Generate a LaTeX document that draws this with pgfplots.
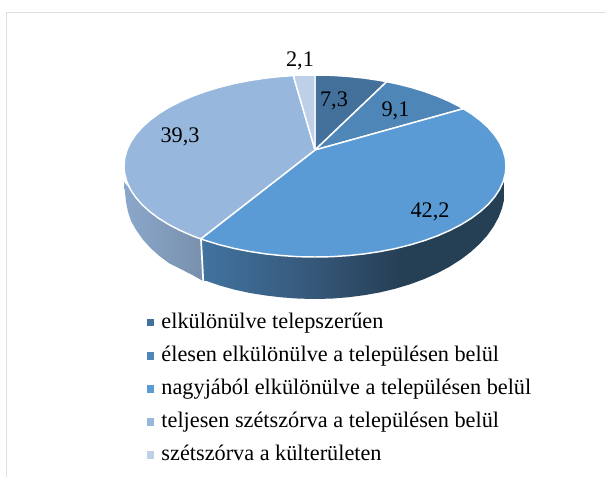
\documentclass[border=0pt]{standalone}
\usepackage{fontspec}
\setmainfont{Liberation Serif}
\usepackage{pgfplots}
\pgfplotsset{compat=1.18}
\definecolor{cA}{HTML}{44719B}
\definecolor{cB}{HTML}{4F86B8}
\definecolor{cC}{HTML}{5B9BD5}
\definecolor{cD}{HTML}{97B7DD}
\definecolor{cE}{HTML}{BDD0E8}
\definecolor{fa}{HTML}{41739F}
\definecolor{fb}{HTML}{375A7C}
\definecolor{fc}{HTML}{253F55}
\definecolor{la}{HTML}{8AA7CB}
\definecolor{lb}{HTML}{7890AD}
\pgfdeclarehorizontalshading{frontshade}{100bp}{color(0bp)=(fa); color(25bp)=(fa); color(42bp)=(fb); color(58bp)=(fc); color(100bp)=(fc)}
\begin{document}
\begin{tikzpicture}
\path[use as bounding box] (0,0) rectangle (454.5pt,357.75pt);
\begin{axis}[
  at={(0,0)},anchor=south west,
  scale only axis,width=454.5pt,height=357.75pt,
  xmin=0,xmax=606,ymin=0,ymax=477,y dir=reverse,
  hide axis,clip=false,
  legend style={at={(axis cs:146,313.5)},anchor=north west,draw=none,fill=none,
    font=\fontsize{16.7pt}{18pt}\selectfont,inner sep=0pt,outer sep=0pt,
    row sep=10.3pt,
    nodes={inner sep=0pt,text height=11pt,text depth=3.5pt,anchor=base west}},
  legend cell align=left,
  legend image code/.code={\path (0pt,0pt) -- (10.5pt,0pt);\path[#1,draw=none] (0pt,1.3pt) rectangle (5.5pt,6.8pt);},
]
% frame
\addplot[draw=black!13,line width=1.3pt,forget plot] coordinates {(6.5,477) (6.5,12.5) (606,12.5)};
% sides
\addplot[draw=none,shading=frontshade,forget plot] coordinates {
 (200.7,238.9) (219.5,244.8) (249.7,251.5) (281.8,255.6) (315,257) (348.2,255.6) (380.3,251.5) (410.5,244.8) (437.8,235.7) (461.3,224.5) (480.4,211.5) (494.5,197.1) (504,180)
 (504.3,198.6) (502.1,208.1) (498.5,217.5) (493.5,226.6) (487.2,235.5) (479.5,244) (470.6,252.1) (460.5,259.7) (449.4,266.8) (437.1,273.3) (424,279.1) (410,284.3) (395.3,288.7) (380,292.4) (364.2,295.2) (348,297.3) (331.6,298.6) (315,299) (298.4,298.6) (282,297.4) (265.8,295.5) (250,293) (234.7,289.7) (220,285.6) (206,280.8) (203,281)
} --cycle;
\addplot[draw=none,left color=la,right color=lb,forget plot] coordinates {
 (200.7,238.9) (203,281) (192.9,275.3) (180.6,269) (169.5,263.5) (159.4,256) (150.5,248) (142.8,239.5) (136.5,230.5) (131,221) (128,212) (126,202) (124,182) (130.5,189.6) (141.9,204.5) (158.5,218.2) (179.9,230.3)
} --cycle;
\addplot[draw=white,line width=1.3pt,forget plot] coordinates {(201,239) (203.3,281.7)};
% top faces
\addplot[fill=cA,draw=white,line width=1.1pt,line join=round] coordinates {
 (315,150) (315,75) (331.7,75.3) (348.2,76.4) (364.4,78.1) (380.3,80.5) (386.7,81.7)} --cycle;
\addlegendentry{elkülönülve telepszerűen}
\addplot[fill=cB,draw=white,line width=1.1pt,line join=round] coordinates {
 (315,150) (386.7,81.7) (395.7,83.5) (410.5,87.2) (424.6,91.5) (437.8,96.3) (450.1,101.7) (461.3,107.5) (463.3,108.7)} --cycle;
\addlegendentry{élesen elkülönülve a településen belül}
\addplot[fill=cC,draw=white,line width=1.1pt,line join=round] coordinates {
 (315,150) (463.3,108.7) (471.5,113.8) (480.4,120.5) (488.1,127.5) (494.5,134.9) (499.5,142.4) (503.1,150.2) (505.3,158.1) (506,166)
 (505.3,173.9) (503.1,181.8) (499.5,189.6) (494.5,197.1) (488.1,204.5) (480.4,211.5) (471.5,218.2) (461.3,224.5) (450.1,230.3) (437.8,235.7) (424.6,240.5) (410.5,244.8) (395.7,248.5) (380.3,251.5) (364.4,253.9) (348.2,255.6) (331.7,256.7) (315,257)
 (298.3,256.7) (281.8,255.6) (265.6,253.9) (249.7,251.5) (234.3,248.5) (219.5,244.8) (205.4,240.5) (200.7,238.9)} --cycle;
\addlegendentry{nagyjából elkülönülve a településen belül}
\addplot[fill=cD,draw=white,line width=1.1pt,line join=round] coordinates {
 (315,150) (200.7,238.9) (192.2,235.7) (179.9,230.3) (168.7,224.5) (158.5,218.2) (149.6,211.5) (141.9,204.5) (135.5,197.1) (130.5,189.6) (126.9,181.8) (124.7,173.9) (124,166) (124.7,158.1) (126.9,150.2) (130.5,142.4) (135.5,134.9) (141.9,127.5) (149.6,120.5) (158.5,113.8) (168.7,107.5) (179.9,101.7) (192.2,96.3) (205.4,91.5) (219.5,87.2) (234.3,83.5) (249.7,80.5) (265.6,78.1) (281.8,76.4) (293.3,75.6)} --cycle;
\addlegendentry{teljesen szétszórva a településen belül}
\addplot[fill=cE,draw=white,line width=1.1pt,line join=round] coordinates {
 (315,150) (293.3,75.6) (298.3,75.3) (315,75)} --cycle;
\addlegendentry{szétszórva a külterületen}
% value labels
\addplot[only marks,mark=none,forget plot,nodes near coords,point meta=explicit symbolic,
  nodes near coords style={anchor=center,inner sep=0pt,font=\fontsize{16.7pt}{18pt}\selectfont,text=black}]
  coordinates {(300,61)[2,1] (334,101)[7,3] (395.5,111)[9,1] (430,211.5)[42,2] (180,137)[39,3]};
\end{axis}
\end{tikzpicture}
\end{document}
